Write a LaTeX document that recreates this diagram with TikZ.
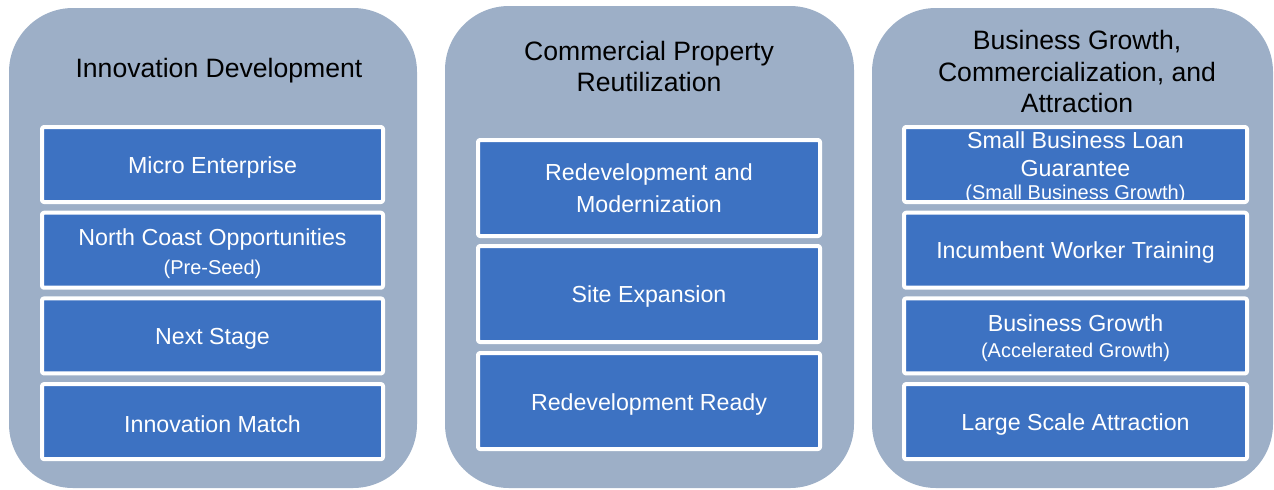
\documentclass[tikz,border=0pt]{standalone}
\usepackage{fontspec}
\setmainfont{Liberation Sans}
\definecolor{panelgray}{RGB}{157,175,199}
\definecolor{boxblue}{RGB}{61,114,194}
\newcommand{\ttlfont}{\fontsize{13.3}{15.6}\selectfont}
\newcommand{\boxfont}{\fontsize{11.6}{15}\selectfont}
\newcommand{\subfont}{\fontsize{10}{12}\selectfont}
\newcommand{\lift}{\rule{0pt}{11pt}}
\usetikzlibrary{fit}
\tikzset{
  panel/.style={fill=panelgray,rounded corners=32pt,inner sep=0pt},
  prog/.style={fill=boxblue,draw=white,line width=2pt,rounded corners=1pt,
    text=white,align=center,inner sep=0pt,font=\boxfont},
  heading/.style={align=center,font=\ttlfont,text=black}
}
\begin{document}
\begin{tikzpicture}[x=0.5pt,y=-0.5pt,line join=round]
  \useasboundingbox (0,0) rectangle (1274,489);
  % panels
  \node[panel,fit={(9,8) (417,488)}] (p1) {};
  \node[panel,fit={(445,6) (854,488)}] (p2) {};
  \node[panel,fit={(872,8) (1273,488)}] (p3) {};
  % headings
  \node[heading] (h1) at (219,70.5) {Innovation Development};
  \node[heading] (h2) at (649,66.5) {Commercial Property\\Reutilization};
  \node[heading] (h3) at (1077,71.5) {Business Growth,\\Commercialization, and\\Attraction};
  % programs, first column
  \foreach \n/\y/\t in {1/164.5/{\lift Micro Enterprise},
      2/250.2/{\rule{0pt}{12pt}North Coast Opportunities\\[-0.5pt]{\subfont(Pre-Seed)}},
      3/335.9/{\lift Next Stage},
      4/421.6/{\lift Innovation Match}}
    \node[prog,minimum width=170.5pt,minimum height=37.5pt] (a\n) at (212.5,\y) {\t};
  % second column
  \foreach \n/\y/\t in {1/188/{Redevelopment and\\[1pt]Modernization},
      2/294/{\lift Site Expansion},
      3/401/{\rule{0pt}{12pt}Redevelopment Ready}}
    \node[prog,minimum width=171pt,minimum height=48pt] (b\n) at (649,\y) {\t};
  % third column (text of the first box runs over its edges)
  \node[prog,minimum width=171.5pt,minimum height=37.5pt,inner ysep=-2pt] (c1) at (1075.5,164.5)
    {\rule{0pt}{11.5pt}Small Business Loan\\[-1pt]Guarantee\\[-3.5pt]{\subfont(Small Business Growth)}};
  \foreach \n/\y/\t in {2/250.2/{\lift Incumbent Worker Training},
      3/335.9/{\rule{0pt}{11pt}Business Growth\\[-2pt]{\subfont(Accelerated Growth)}},
      4/421.6/{\lift Large Scale Attraction}}
    \node[prog,minimum width=171.5pt,minimum height=37.5pt] (c\n) at (1075.5,\y) {\t};
\end{tikzpicture}
\end{document}
